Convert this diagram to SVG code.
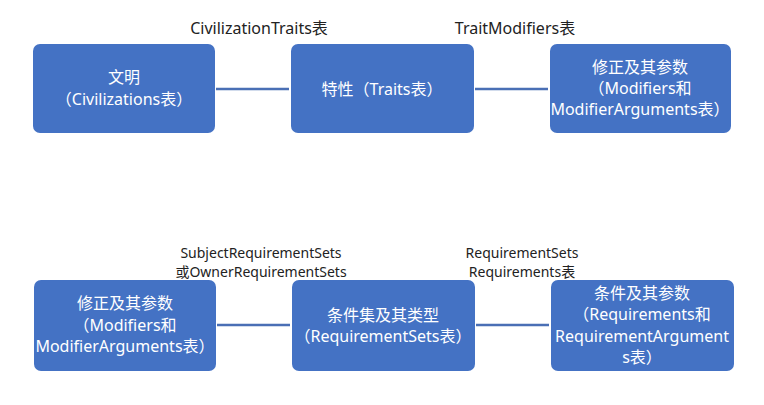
<svg xmlns="http://www.w3.org/2000/svg" width="764" height="405" viewBox="0 0 764 405">
<style>
.box{fill:#4472C4;}
.t{font-family:"Noto Sans","Noto Sans CJK SC",sans-serif;font-size:16px;fill:#fff;text-anchor:middle;}
.l{font-family:"Noto Sans","Noto Sans CJK SC",sans-serif;font-size:16px;fill:#222;text-anchor:middle;}
.s{font-family:"Noto Sans","Noto Sans CJK SC",sans-serif;font-size:14px;fill:#222;text-anchor:middle;}
.c{stroke:#4A6FB5;stroke-width:2.5;fill:none;}
</style>
<rect width="764" height="405" fill="#fff"/>
<g id="connectors">
<line class="c" x1="216" y1="89" x2="289" y2="89"/>
<line class="c" x1="475" y1="89" x2="548" y2="89"/>
<line class="c" x1="217" y1="325" x2="290" y2="325"/>
<line class="c" x1="476" y1="325" x2="549" y2="325"/>
<text class="l" x="259" y="34">CivilizationTraits表</text>
<text class="l" x="515" y="34">TraitModifiers表</text>
<text class="s" x="261" y="258">SubjectRequirementSets</text>
<text class="s" x="261" y="277">或OwnerRequirementSets</text>
<text class="s" x="522" y="258">RequirementSets</text>
<text class="s" x="522" y="277">Requirements表</text>
</g>
<g id="civ">
<rect class="box" x="33" y="44" width="182" height="89" rx="7"/>
<text class="t" x="124" y="83">文明</text>
<text class="t" x="124" y="105">（Civilizations表）</text>
</g>
<g id="traits">
<rect class="box" x="291" y="44" width="183" height="89" rx="7"/>
<text class="t" x="382" y="95">特性（Traits表）</text>
</g>
<g id="mod1">
<rect class="box" x="550" y="44" width="181" height="89" rx="7"/>
<text class="t" x="640" y="73">修正及其参数</text>
<text class="t" x="640" y="94">（Modifiers和</text>
<text class="t" x="640" y="115">ModifierArguments表）</text>
</g>
<g id="mod2">
<rect class="box" x="34" y="280" width="182" height="91" rx="7"/>
<text class="t" x="125" y="309">修正及其参数</text>
<text class="t" x="125" y="331">（Modifiers和</text>
<text class="t" x="125" y="352">ModifierArguments表）</text>
</g>
<g id="reqsets">
<rect class="box" x="292" y="280" width="183" height="91" rx="7"/>
<text class="t" x="383" y="321">条件集及其类型</text>
<text class="t" x="383" y="342">（RequirementSets表）</text>
</g>
<g id="reqs">
<rect class="box" x="551" y="280" width="183" height="91" rx="7"/>
<text class="t" x="642" y="299">条件及其参数</text>
<text class="t" x="642" y="320">（Requirements和</text>
<text class="t" x="642" y="342">RequirementArgument</text>
<text class="t" x="642" y="363">s表）</text>
</g>
</svg>
